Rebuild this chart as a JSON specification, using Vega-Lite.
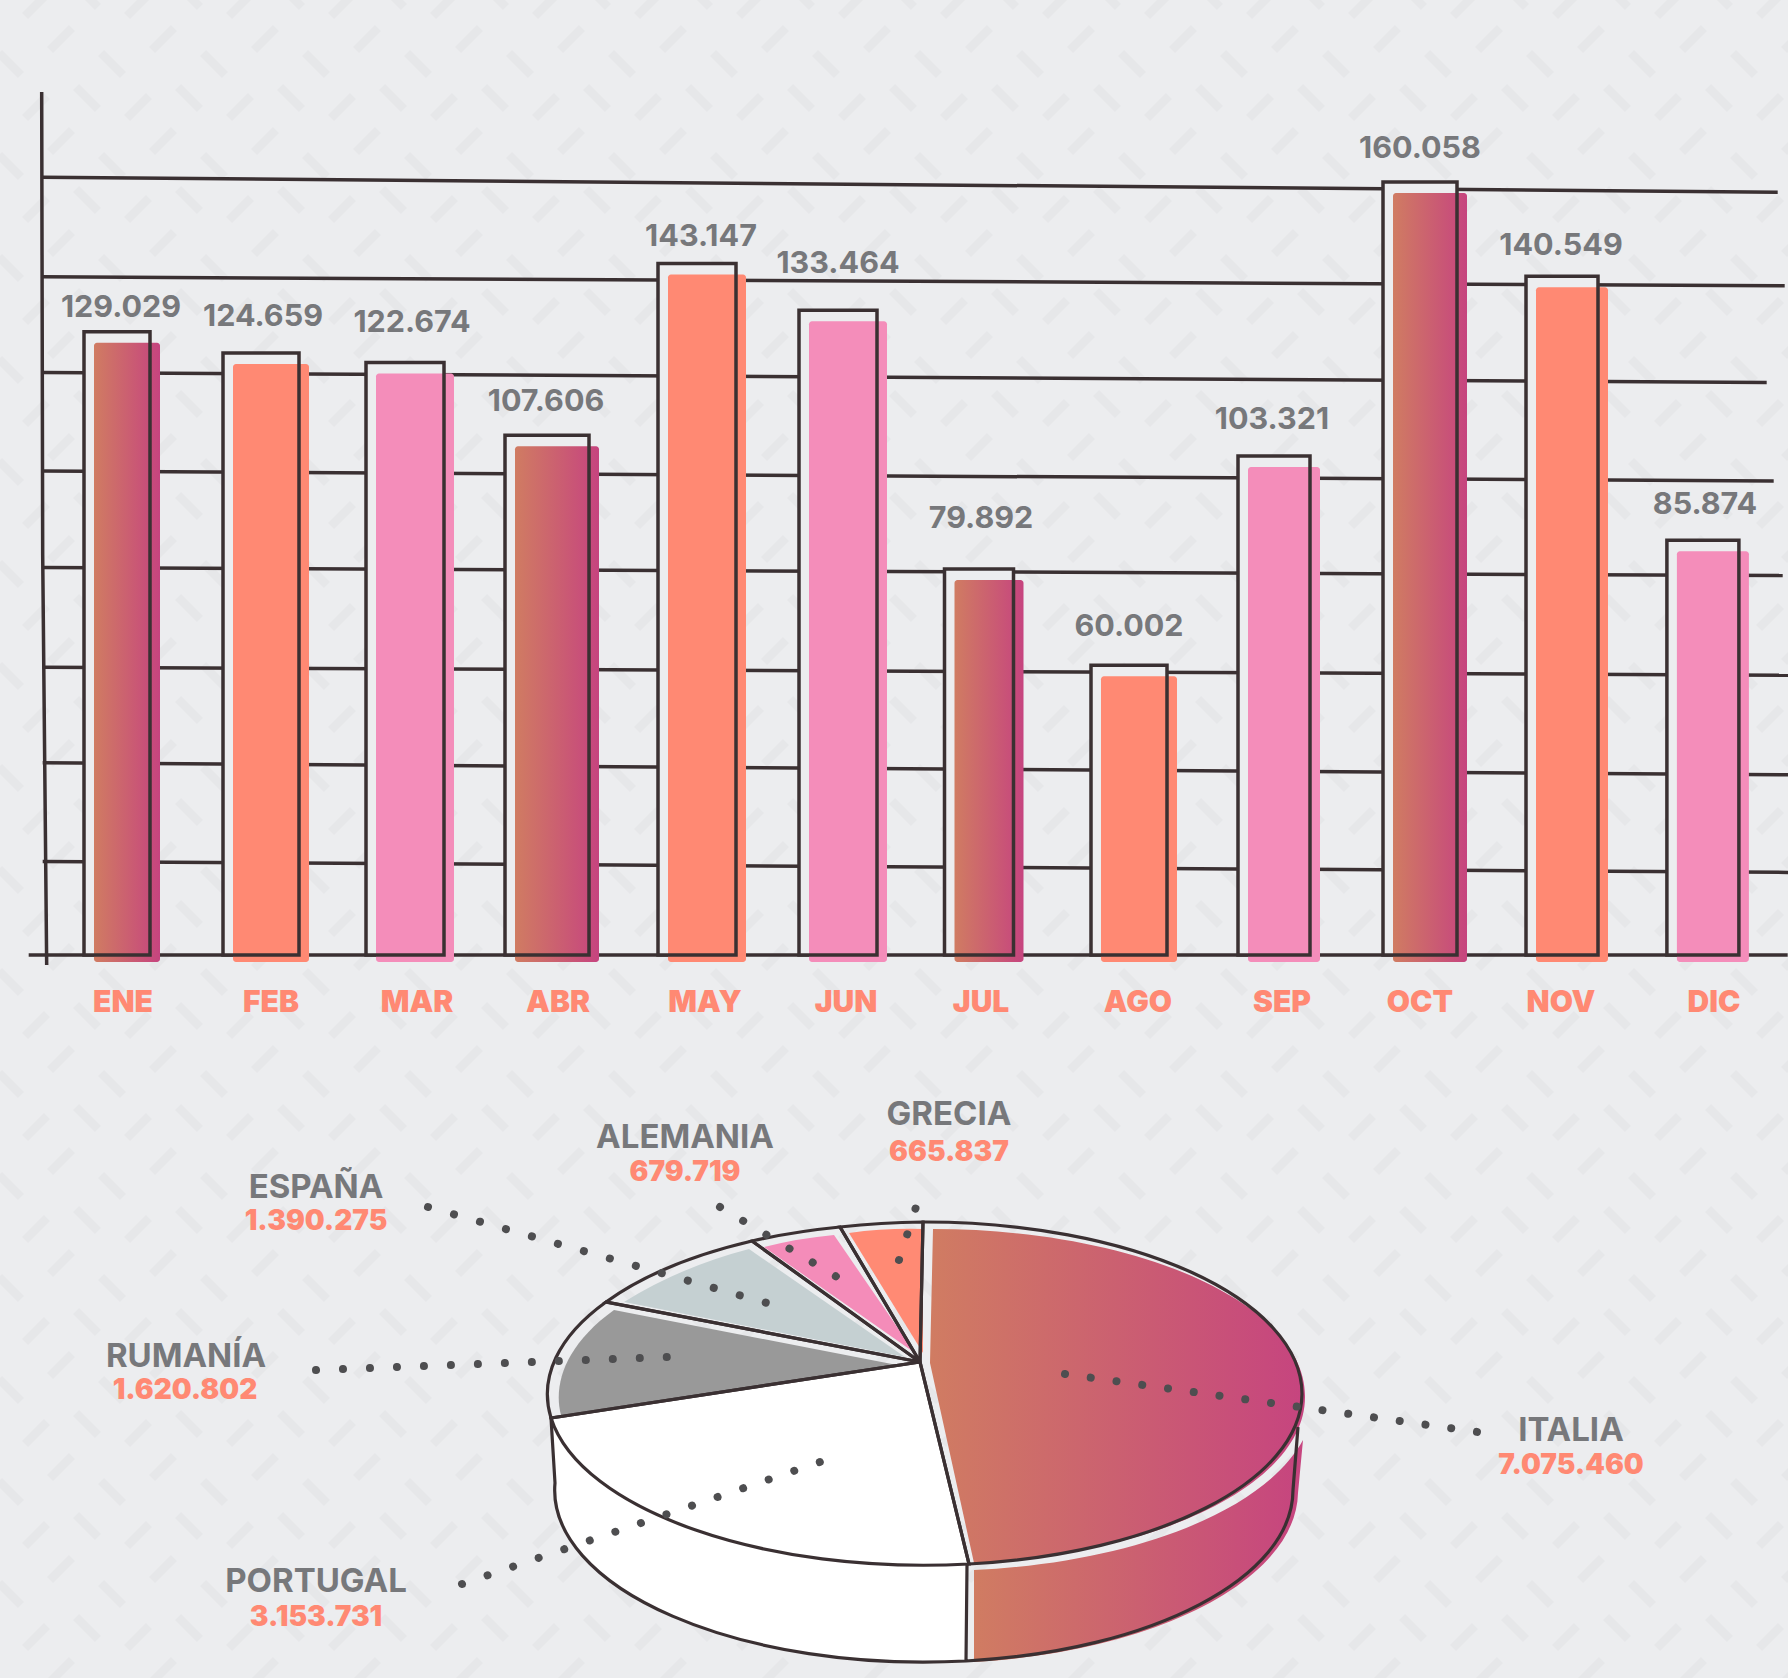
{
"$schema":"https://vega.github.io/schema/vega-lite/v6.json",
"width":1788,"height":1678,"padding":0,"autosize":{"type":"none"},"background":"#ECEDEF",
"config":{"view":{"stroke":null},"text":{"font":"Inter"}},
"datasets":{
"fondo":[{"pieza":"trama"}],
"meses":[
{"mes":1,"nombre":"ENE","valor":129029,"tipo":"degradado"},
{"mes":2,"nombre":"FEB","valor":124659,"tipo":"salmon"},
{"mes":3,"nombre":"MAR","valor":122674,"tipo":"rosa"},
{"mes":4,"nombre":"ABR","valor":107606,"tipo":"degradado"},
{"mes":5,"nombre":"MAY","valor":143147,"tipo":"salmon"},
{"mes":6,"nombre":"JUN","valor":133464,"tipo":"rosa"},
{"mes":7,"nombre":"JUL","valor":79892,"tipo":"degradado"},
{"mes":8,"nombre":"AGO","valor":60002,"tipo":"salmon"},
{"mes":9,"nombre":"SEP","valor":103321,"tipo":"rosa"},
{"mes":10,"nombre":"OCT","valor":160058,"tipo":"degradado"},
{"mes":11,"nombre":"NOV","valor":140549,"tipo":"salmon"},
{"mes":12,"nombre":"DIC","valor":85874,"tipo":"rosa"}],
"valoresMes":[
{"mes":"ENE","valor":129029,"texto":"129.029","punto":41},{"mes":"FEB","valor":124659,"texto":"124.659","punto":42},
{"mes":"MAR","valor":122674,"texto":"122.674","punto":43},{"mes":"ABR","valor":107606,"texto":"107.606","punto":44},
{"mes":"MAY","valor":143147,"texto":"143.147","punto":45},{"mes":"JUN","valor":133464,"texto":"133.464","punto":46},
{"mes":"JUL","valor":79892,"texto":"79.892","punto":47},{"mes":"AGO","valor":60002,"texto":"60.002","punto":48},
{"mes":"SEP","valor":103321,"texto":"103.321","punto":49},{"mes":"OCT","valor":160058,"texto":"160.058","punto":50},
{"mes":"NOV","valor":140549,"texto":"140.549","punto":51},{"mes":"DIC","valor":85874,"texto":"85.874","punto":52}],
"nombresMes":[
{"nombre":"ENE","punto":61},{"nombre":"FEB","punto":62},{"nombre":"MAR","punto":63},{"nombre":"ABR","punto":64},
{"nombre":"MAY","punto":65},{"nombre":"JUN","punto":66},{"nombre":"JUL","punto":67},{"nombre":"AGO","punto":68},
{"nombre":"SEP","punto":69},{"nombre":"OCT","punto":70},{"nombre":"NOV","punto":71},{"nombre":"DIC","punto":72}],
"rejilla":[
{"linea":"g160","valor":160000,"mes":0},{"linea":"g140","valor":140000,"mes":0},{"linea":"g120","valor":120000,"mes":0},{"linea":"g100","valor":100000,"mes":0},
{"linea":"g80","valor":80000,"mes":0},{"linea":"g60","valor":60000,"mes":0},{"linea":"g40","valor":40000,"mes":0},{"linea":"g20","valor":20000,"mes":0},
{"linea":"base","valor":0,"mes":0},{"linea":"eje","valor":0,"mes":0}],
"nombresPais":[
{"pais":"GRECIA","punto":1},{"pais":"ALEMANIA","punto":2},{"pais":"ESPAÑA","punto":3},{"pais":"RUMANÍA","punto":4},{"pais":"PORTUGAL","punto":5},{"pais":"ITALIA","punto":6}],
"valoresPais":[
{"pais":"GRECIA","valor":665837,"texto":"665.837","punto":11},
{"pais":"ALEMANIA","valor":679719,"texto":"679.719","punto":12},
{"pais":"ESPAÑA","valor":1390275,"texto":"1.390.275","punto":13},
{"pais":"RUMANÍA","valor":1620802,"texto":"1.620.802","punto":14},
{"pais":"PORTUGAL","valor":3153731,"texto":"3.153.731","punto":15},
{"pais":"ITALIA","valor":7075460,"texto":"7.075.460","punto":16}],
"guias":[
{"pais":"GRECIA","punto":21},{"pais":"GRECIA","punto":31},
{"pais":"ALEMANIA","punto":22},{"pais":"ALEMANIA","punto":32},
{"pais":"ESPAÑA","punto":23},{"pais":"ESPAÑA","punto":33},
{"pais":"RUMANÍA","punto":24},{"pais":"RUMANÍA","punto":34},
{"pais":"PORTUGAL","punto":25},{"pais":"PORTUGAL","punto":35}],
"guiaItalia":[{"pais":"ITALIA","punto":26},{"pais":"ITALIA","punto":36}],
"rellenos":[
{"pieza":"PORTUGAL cara","valor":3153731,"punto":0},{"pieza":"PORTUGAL lateral","valor":3153731,"punto":0},
{"pieza":"RUMANÍA","valor":1620802,"punto":0},{"pieza":"ESPAÑA","valor":1390275,"punto":0},{"pieza":"ALEMANIA","valor":679719,"punto":0},{"pieza":"GRECIA","valor":665837,"punto":0}],
"italia":[{"pieza":"ITALIA cara","valor":7075460,"punto":0},{"pieza":"ITALIA lateral","valor":7075460,"punto":0}],
"bordes":[{"pieza":"ITALIA","punto":0},{"pieza":"PORTUGAL","punto":0},{"pieza":"RUMANÍA","punto":0},{"pieza":"ESPAÑA","punto":0},{"pieza":"ALEMANIA","punto":0},{"pieza":"GRECIA","punto":0},{"pieza":"lateral","punto":0}]
},
"resolve":{"scale":{"x":"independent","y":"independent","shape":"independent","size":"independent"}},
"layer":[
{"data":{"name":"fondo"},
 "mark":{"type":"point","filled":false,"stroke":"#E6E7E9","strokeWidth":8.5,"strokeDash":[31,113.25],"strokeDashOffset":15.5,"size":4,"opacity":1},
 "encoding":{
  "x":{"datum":0,"type":"quantitative","scale":{"domain":[0,1],"range":[0,1]},"axis":null},
  "y":{"datum":0,"type":"quantitative","scale":{"domain":[0,1],"range":[0,1]},"axis":null},
  "shape":{"field":"pieza","type":"nominal","legend":null,"scale":{"domain":["trama"],"range":["M163 -63l-1836 1836M265 -63l-1836 1836M367 -63l-1836 1836M469 -63l-1836 1836M571 -63l-1836 1836M673 -63l-1836 1836M775 -63l-1836 1836M877 -63l-1836 1836M979 -63l-1836 1836M1081 -63l-1836 1836M1183 -63l-1836 1836M1285 -63l-1836 1836M1387 -63l-1836 1836M1489 -63l-1836 1836M1591 -63l-1836 1836M1693 -63l-1836 1836M1795 -63l-1836 1836M1897 -63l-1836 1836M1999 -63l-1836 1836M2101 -63l-1836 1836M2203 -63l-1836 1836M2305 -63l-1836 1836M2407 -63l-1836 1836M2509 -63l-1836 1836M2611 -63l-1836 1836M2713 -63l-1836 1836M2815 -63l-1836 1836M2917 -63l-1836 1836M3019 -63l-1836 1836M3121 -63l-1836 1836M3223 -63l-1836 1836M3325 -63l-1836 1836M3427 -63l-1836 1836M3529 -63l-1836 1836M138 -97l-1836 1836M240 -97l-1836 1836M342 -97l-1836 1836M444 -97l-1836 1836M546 -97l-1836 1836M648 -97l-1836 1836M750 -97l-1836 1836M852 -97l-1836 1836M954 -97l-1836 1836M1056 -97l-1836 1836M1158 -97l-1836 1836M1260 -97l-1836 1836M1362 -97l-1836 1836M1464 -97l-1836 1836M1566 -97l-1836 1836M1668 -97l-1836 1836M1770 -97l-1836 1836M1872 -97l-1836 1836M1974 -97l-1836 1836M2076 -97l-1836 1836M2178 -97l-1836 1836M2280 -97l-1836 1836M2382 -97l-1836 1836M2484 -97l-1836 1836M2586 -97l-1836 1836M2688 -97l-1836 1836M2790 -97l-1836 1836M2892 -97l-1836 1836M2994 -97l-1836 1836M3096 -97l-1836 1836M3198 -97l-1836 1836M3300 -97l-1836 1836M3402 -97l-1836 1836M3504 -97l-1836 1836M-1724 -38l1836 1836M-1622 -38l1836 1836M-1520 -38l1836 1836M-1418 -38l1836 1836M-1316 -38l1836 1836M-1214 -38l1836 1836M-1112 -38l1836 1836M-1010 -38l1836 1836M-908 -38l1836 1836M-806 -38l1836 1836M-704 -38l1836 1836M-602 -38l1836 1836M-500 -38l1836 1836M-398 -38l1836 1836M-296 -38l1836 1836M-194 -38l1836 1836M-92 -38l1836 1836M10 -38l1836 1836M112 -38l1836 1836M214 -38l1836 1836M316 -38l1836 1836M418 -38l1836 1836M520 -38l1836 1836M622 -38l1836 1836M724 -38l1836 1836M826 -38l1836 1836M928 -38l1836 1836M1030 -38l1836 1836M1132 -38l1836 1836M1234 -38l1836 1836M1336 -38l1836 1836M1438 -38l1836 1836M1540 -38l1836 1836M1642 -38l1836 1836M1744 -38l1836 1836M-1647 -4l1836 1836M-1545 -4l1836 1836M-1443 -4l1836 1836M-1341 -4l1836 1836M-1239 -4l1836 1836M-1137 -4l1836 1836M-1035 -4l1836 1836M-933 -4l1836 1836M-831 -4l1836 1836M-729 -4l1836 1836M-627 -4l1836 1836M-525 -4l1836 1836M-423 -4l1836 1836M-321 -4l1836 1836M-219 -4l1836 1836M-117 -4l1836 1836M-15 -4l1836 1836M87 -4l1836 1836M189 -4l1836 1836M291 -4l1836 1836M393 -4l1836 1836M495 -4l1836 1836M597 -4l1836 1836M699 -4l1836 1836M801 -4l1836 1836M903 -4l1836 1836M1005 -4l1836 1836M1107 -4l1836 1836M1209 -4l1836 1836M1311 -4l1836 1836M1413 -4l1836 1836M1515 -4l1836 1836M1617 -4l1836 1836M1719 -4l1836 1836"]}}
 }},
{"encoding":{
  "x":{"field":"mes","type":"quantitative","axis":null,"scale":{"zero":false,"nice":false,"domain":[0,1,2,3,4,5,6,7,8,9,10,11,12],"range":[40,117,261,405,547,697,838,979,1129,1274,1420,1562,1708]}},
  "y":{"field":"valor","type":"quantitative","axis":null,"scale":{"nice":false,"domain":[0,200000],"range":[955,-11]}}
 },
 "layer":[
 {"data":{"name":"rejilla"},
  "mark":{"type":"point","filled":false,"stroke":"#3A3032","strokeWidth":3.5,"size":4,"opacity":1},
  "encoding":{
   "shape":{"field":"linea","type":"nominal","legend":null,"scale":{"domain":["g160","g140","g120","g100","g80","g60","g40","g20","base","eje"],"range":["M0 -5L1735 10","M0 -2L1742 7","M0 -3L1724 7","M0 -1L1731 9","M0 -1L1740 7","M0 2L1748 10","M0 1L1748 13","M0 3L1748 14","M-14 0L1745 0","M-1 -863L0 -400L4 10"]}}
  }},
 {"data":{"name":"meses"},
  "mark":{"type":"bar","orient":"vertical","fill":"#ECEDEF"},
  "encoding":{"size":{"field":"mes","type":"quantitative","legend":null,"scale":{"zero":false,"nice":false,"domain":[1,2,3,4,5,6,7,8,9,10,11,12],"range":[66,76,78,84,78,78,69,76,72,74,72,72]}}}},
 {"data":{"name":"meses"},"transform":[{"filter":"datum.tipo=='degradado'"}],
  "mark":{"type":"bar","orient":"vertical","xOffset":10,"yOffset":11,"y2Offset":7,"cornerRadius":3,"fill":{"gradient":"linear","x1":0,"x2":1,"y1":0,"y2":0,"stops":[{"offset":0,"color":"#D07C62"},{"offset":1,"color":"#C6447F"}]}},
  "encoding":{"y2":{"datum":0},"size":{"field":"mes","type":"quantitative"}}},
 {"data":{"name":"meses"},"transform":[{"filter":"datum.tipo=='salmon'"}],
  "mark":{"type":"bar","orient":"vertical","xOffset":10,"yOffset":11,"y2Offset":7,"cornerRadius":3,"fill":"#FF8973"},
  "encoding":{"y2":{"datum":0},"size":{"field":"mes","type":"quantitative"}}},
 {"data":{"name":"meses"},"transform":[{"filter":"datum.tipo=='rosa'"}],
  "mark":{"type":"bar","orient":"vertical","xOffset":10,"yOffset":11,"y2Offset":7,"cornerRadius":3,"fill":"#F48DBA"},
  "encoding":{"y2":{"datum":0},"size":{"field":"mes","type":"quantitative"}}},
 {"data":{"name":"meses"},
  "mark":{"type":"bar","orient":"vertical","fill":null,"fillOpacity":0,"stroke":"#3A3032","strokeWidth":3.5},
  "encoding":{"size":{"field":"mes","type":"quantitative"}}}
 ]},
{"encoding":{
  "x":{"field":"punto","type":"quantitative","axis":null,"scale":{"zero":false,"nice":false,"domain":[0,1,2,3,4,5,6,11,12,13,14,15,16,21,22,23,24,25,26,31,32,33,34,35,36,41,42,43,44,45,46,47,48,49,50,51,52,61,62,63,64,65,66,67,68,69,70,71,72],"range":[0,949,685,316,186,316,1571,949,685,316,185,316,1571,916,720,428,316,462,1478,899,837,767,668,823,1065,121,263,412,546,701,838,981,1129,1272,1420,1561,1705,123,271,417,558,705,846,981,1138,1282,1420,1561,1714]}},
  "y":{"field":"punto","type":"quantitative","axis":null,"scale":{"zero":false,"nice":false,"domain":[0,1,2,3,4,5,6,11,12,13,14,15,16,21,22,23,24,25,26,31,32,33,34,35,36,41,42,43,44,45,46,47,48,49,50,51,52,61,62,63,64,65,66,67,68,69,70,71,72],"range":[0,1115,1138,1188,1357,1582,1431,1153,1173,1222,1391,1618,1466,1207,1207,1207,1370,1584,1432,1260,1277,1303,1357,1461,1374,308,317,323,402,237,264,519,627,420,149,246,505,1003,1003,1003,1003,1003,1003,1003,1003,1003,1003,1003,1003]}}
 },
 "resolve":{"scale":{"shape":"independent","color":"independent"}},
 "layer":[
 {"data":{"name":"rellenos"},
  "mark":{"type":"point","filled":true,"size":4,"opacity":1},
  "encoding":{
   "color":{"field":"pieza","type":"nominal","legend":null,"scale":{"domain":["PORTUGAL cara","PORTUGAL lateral","RUMANÍA","ESPAÑA","ALEMANIA","GRECIA"],"range":["#FFFFFF","#FFFFFF","#999999","#C5D0D2","#F48CB9","#FF8A74"]}},
   "shape":{"field":"pieza","type":"nominal","legend":null,"scale":{"domain":["PORTUGAL cara","PORTUGAL lateral","RUMANÍA","ESPAÑA","ALEMANIA","GRECIA"],"range":["M920 1362L969 1564A377 172 0 0 1 551 1418Z","M551 1418L555 1483A369 172 0 0 0 966 1661L967 1565A377 172 0 0 1 551 1418Z","M614 1310L897 1365L561 1415C553 1385 565 1345 614 1310Z","M624 1302Q680 1267 749 1249L905 1357Z","M764 1247Q800 1238 834 1235L915 1353Z","M849 1233Q885 1228 923 1229L923 1353Z"]}}
  }},
 {"data":{"name":"italia"},
  "mark":{"type":"point","filled":true,"size":4,"opacity":1,"fill":{"gradient":"linear","x1":0,"x2":1,"y1":0,"y2":0,"stops":[{"offset":0,"color":"#D07C62"},{"offset":1,"color":"#C6447F"}]}},
  "encoding":{
   "shape":{"field":"pieza","type":"nominal","legend":null,"scale":{"domain":["ITALIA cara","ITALIA lateral"],"range":["M933 1229A372 167 0 0 1 1305 1396A372 167 0 0 1 974 1563L930 1363Z","M974 1570A377 172 0 0 0 1303 1440L1298 1493A369 172 0 0 1 974 1662Z"]}}
  }},
 {"data":{"name":"bordes"},
  "mark":{"type":"point","filled":false,"size":4,"opacity":1,"stroke":"#3A3032","strokeWidth":3.2},
  "encoding":{
   "shape":{"field":"pieza","type":"nominal","legend":null,"scale":{"domain":["ITALIA","PORTUGAL","RUMANÍA","ESPAÑA","ALEMANIA","GRECIA","lateral"],"range":["M920 1362L923 1222A377 172 0 0 1 1302 1394A377 172 0 0 1 969 1564Z","M920 1362L969 1564A377 172 0 0 1 551 1418Z","M920 1362L551 1418A377 172 0 0 1 606 1302Z","M920 1362L606 1302A377 172 0 0 1 752 1241Z","M920 1362L752 1241A377 172 0 0 1 840 1227Z","M920 1362L840 1227A377 172 0 0 1 923 1222Z","M551 1418L555 1483A369 172 0 0 0 966 1661A369 172 0 0 0 1293 1490L1298 1427M966 1661L967 1565"]}}
  }},
 {"data":{"name":"guias"},
  "mark":{"type":"line","stroke":"#4E4E50","strokeWidth":8,"strokeCap":"round","strokeDash":[0.01,26.99]},
  "encoding":{"detail":{"field":"pais"}}},
 {"data":{"name":"guiaItalia"},
  "mark":{"type":"line","stroke":"#4E4E50","strokeWidth":8,"strokeCap":"round","strokeDash":[0.01,25.99]},
  "encoding":{"detail":{"field":"pais"}}},
 {"data":{"name":"nombresPais"},
  "mark":{"type":"text","fontSize":33,"fontWeight":700,"fill":"#77787B","baseline":"middle","align":"center"},
  "encoding":{"text":{"field":"pais"}}},
 {"data":{"name":"valoresPais"},
  "mark":{"type":"text","fontSize":28,"fontWeight":900,"fill":"#FF8973","baseline":"middle","align":"center"},
  "encoding":{"text":{"field":"texto"}}},
 {"data":{"name":"valoresMes"},
  "mark":{"type":"text","fontSize":30.5,"fontWeight":700,"fill":"#77787B","baseline":"middle","align":"center"},
  "encoding":{"text":{"field":"texto"}}},
 {"data":{"name":"nombresMes"},
  "mark":{"type":"text","fontSize":30,"fontWeight":900,"fill":"#FF8973","baseline":"middle","align":"center"},
  "encoding":{"text":{"field":"nombre"}}}
 ]}
]}
